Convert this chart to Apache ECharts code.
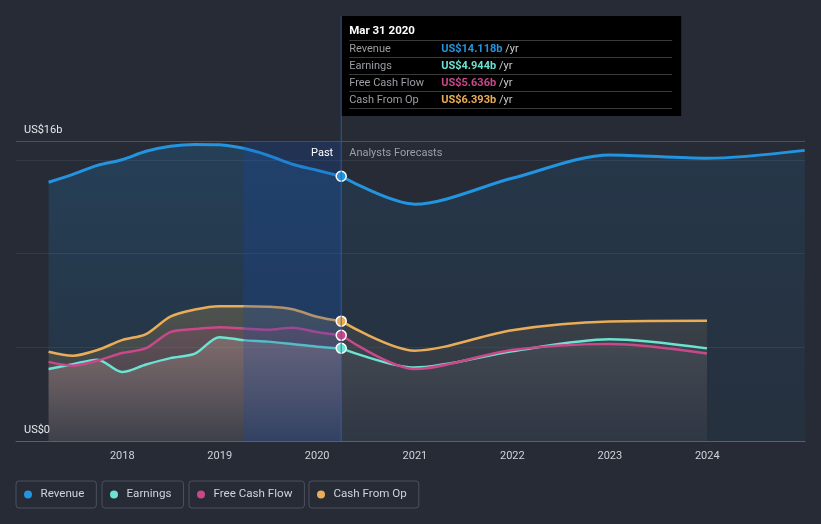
<!DOCTYPE html>
<html>
<head>
<meta charset="utf-8">
<script src="https://cdn.jsdelivr.net/npm/echarts@6/dist/echarts.min.js"></script>
<style>
html,body{margin:0;padding:0;background:#262b36;}
#c{width:821px;height:524px;}
</style>
</head>
<body>
<div id="c"></div>
<script>
// ---------- data (US$ billions) ----------
const pastDates = ['2017-03-31','2017-06-30','2017-09-30','2017-12-31','2018-03-31','2018-06-30','2018-09-30','2018-12-31','2019-03-31','2019-06-30','2019-09-30','2019-12-31','2020-03-31'];
const revenuePast  = [13.80,14.22,14.70,15.00,15.45,15.72,15.82,15.80,15.61,15.24,14.76,14.44,14.118];
const earningsPast = [3.84,4.10,4.34,3.68,4.08,4.42,4.66,5.54,5.38,5.30,5.17,5.03,4.944];
const fcfPast      = [4.22,4.02,4.29,4.69,4.95,5.81,5.97,6.07,6.00,5.93,6.04,5.81,5.636];
const cfoPast      = [4.76,4.55,4.85,5.38,5.70,6.63,7.01,7.19,7.19,7.16,7.03,6.63,6.393];

const forecastDates        = ['2020-03-31','2020-12-31','2021-12-31','2022-12-31','2023-12-31'];
const revenueForecastDates = ['2020-03-31','2020-12-31','2021-12-31','2022-12-31','2023-12-31','2024-12-31'];
const revenueForecast  = [14.118,12.63,14.01,15.26,15.08,15.50];
const earningsForecast = [4.944,3.92,4.79,5.43,4.94];
const fcfForecast      = [5.636,3.84,4.85,5.17,4.67];
const cfoForecast      = [6.393,4.82,5.91,6.37,6.41];

const seriesNames = ['Revenue','Earnings','Free Cash Flow','Cash From Op'];
const xTickYears = [2018,2019,2020,2021,2022,2023,2024];
const yTickValues = [0,16];
const yTickLabels = ['US$0','US$16b'];
const highlightRange = ['2019-03-31','2020-03-31'];
const tooltipTitle = 'Mar 31 2020';
const xRange = ['2016-11-29','2025-01-01'];

// ---------- styling ----------
const COLORS = ['#2394df','#6ce2d2','#c9488a','#e9ad57'];
const FONT = 'Roboto, "Open Sans", sans-serif';

function grad(top, bottom){
  return new echarts.graphic.LinearGradient(0,0,0,1,[{offset:0,color:top},{offset:1,color:bottom}]);
}
function pairs(dates, vals){ return dates.map((d,i)=>[d, vals[i]]); }
function lineSeries(name, dates, vals, color, width, area){
  return {
    name, type:'line', data: pairs(dates, vals), smooth:0.3,
    symbol:'none', silent:true,
    lineStyle:{color, width}, itemStyle:{color},
    areaStyle:{color: area}, z:2
  };
}

const pastAreas = [
  grad('rgba(35,148,223,0.28)','rgba(35,148,223,0.09)'),
  grad('rgba(215,205,195,0.38)','rgba(215,205,195,0.07)'),
  grad('rgba(201,72,138,0.25)','rgba(201,72,138,0.05)'),
  grad('rgba(232,180,90,0.30)','rgba(232,180,90,0.07)')
];
const fcAreas = [
  grad('rgba(35,148,223,0.16)','rgba(35,148,223,0.07)'),
  grad('rgba(160,160,175,0.14)','rgba(160,160,175,0.03)'),
  grad('rgba(160,160,175,0.12)','rgba(160,160,175,0.03)'),
  grad('rgba(80,78,76,0.72)','rgba(60,62,70,0.35)')
];

const pastVals = [revenuePast, earningsPast, fcfPast, cfoPast];
const fcVals = [revenueForecast, earningsForecast, fcfForecast, cfoForecast];
const fcDates = [revenueForecastDates, forecastDates, forecastDates, forecastDates];

const series = [];
for (let i=0;i<4;i++){
  const w = i===0 ? 3 : 2.5;
  series.push(lineSeries(seriesNames[i], pastDates, pastVals[i], COLORS[i], w, pastAreas[i]));
  series.push(lineSeries(seriesNames[i], fcDates[i], fcVals[i], COLORS[i], w, fcAreas[i]));
}
// highlighted last-year band
series[6].markArea = {
  silent:true, z:3,
  itemStyle:{color:'rgba(20,70,170,0.25)'},
  data:[[{xAxis:highlightRange[0]},{xAxis:highlightRange[1]}]]
};
// markers at the latest reported point
const lastIdx = pastDates.length-1;
for (let i=0;i<4;i++){
  series.push({
    name: seriesNames[i], type:'scatter', z:5, silent:true,
    data:[[pastDates[lastIdx], pastVals[i][lastIdx]]],
    symbolSize:10,
    itemStyle:{color:COLORS[i], borderColor:'#ffffff', borderWidth:1.5, opacity:1}
  });
}

const legendLefts = [16,102,189,309];
const legends = seriesNames.map((n,i)=>({
  data:[n], left:legendLefts[i], top:481, orient:'horizontal',
  icon:'circle', itemWidth:15, itemHeight:8,
  padding:[6,12,6,8],
  borderColor:'#4b515d', borderWidth:1, borderRadius:3,
  textStyle:{color:'#cfd3da', fontSize:11.6, fontFamily:FONT, lineHeight:15},
  selectedMode:false
}));

const YEAR = 365*24*3600*1000;
const option = {
  animation:false,
  backgroundColor:'#262b36',
  color: COLORS,
  grid:{left:16, right:16, top:141, bottom:83, containLabel:false},
  legend: legends,
  xAxis:{
    type:'time',
    min: +echarts.time.parse(xRange[0]),
    max: +echarts.time.parse(xRange[1]),
    minInterval: YEAR, maxInterval: YEAR + 2*24*3600*1000,
    splitNumber: 8,
    axisLine:{show:true, lineStyle:{color:'#5a606c', width:1}},
    axisTick:{show:false},
    splitLine:{show:false},
    axisLabel:{
      color:'#d0d3d8', fontSize:11, fontFamily:FONT, margin:10,
      formatter: function(v){
        const d = new Date(v);
        const y = d.getFullYear();
        if (d.getMonth()===0 && d.getDate()===1 && xTickYears.indexOf(y)>=0) return String(y);
        return '';
      }
    }
  },
  yAxis:{
    type:'value', min:0, max:16, interval:5,
    axisLine:{show:false}, axisTick:{show:false},
    splitLine:{show:true, lineStyle:{color:['#323a47','#323a47','#323a47','#323a47','#4b505a'], width:1}},
    axisLabel:{
      inside:true, margin:8, showMaxLabel:true, showMinLabel:true,
      verticalAlign:'bottom', padding:[0,0,5,0],
      color:'#e6e8eb', fontSize:11, fontFamily:FONT,
      formatter: function(v){
        const k = yTickValues.indexOf(v);
        return k>=0 ? yTickLabels[k] : '';
      }
    }
  },
  series
};

const chart = echarts.init(document.getElementById('c'));
chart.setOption(option);

// ---------- overlay: split line, labels, tooltip ----------
const splitX = chart.convertToPixel({gridIndex:0}, [pastDates[lastIdx], 0])[0];
const yTop = chart.convertToPixel({gridIndex:0}, [pastDates[0], 16])[1];
const yBot = chart.convertToPixel({gridIndex:0}, [pastDates[0], 0])[1];

function txt(x,y,text,fill,extra){
  return Object.assign({type:'text', x, y, silent:true,
    style:Object.assign({text, fill, fontSize:11, fontFamily:FONT, verticalAlign:'middle'}, extra||{})});
}
const tipChildren = [
  {type:'rect', shape:{x:0,y:0,width:340,height:100}, style:{fill:'#000000'}},
  txt(8,15,tooltipTitle,'#ffffff',{fontWeight:'bold', fontSize:11.5})
];
const sepYs = [24.5,41.5,58.5,75.5,92.5];
sepYs.forEach(y=>tipChildren.push({type:'line', shape:{x1:8,y1:y,x2:331,y2:y}, style:{stroke:'#3a3a3a', lineWidth:1}}));
for (let i=0;i<4;i++){
  const cy = 33 + i*17;
  tipChildren.push(txt(8, cy, seriesNames[i], '#9b9ea3'));
  tipChildren.push({type:'text', x:100, y:cy, silent:true, style:{
    text:'{v|US$'+pastVals[i][lastIdx].toFixed(3)+'b} {u|/yr}',
    verticalAlign:'middle', fontSize:11, fontFamily:FONT,
    rich:{
      v:{fill:COLORS[i], fontSize:11, fontFamily:FONT, fontWeight:'bold'},
      u:{fill:'#c8cacd', fontSize:11, fontFamily:FONT}
    }
  }});
}

chart.setOption({
  graphic:[
    {type:'line', silent:true, z:10, shape:{x1:splitX, y1:16, x2:splitX, y2:yBot}, style:{stroke:'rgba(48,98,170,0.85)', lineWidth:1}},
    Object.assign(txt(splitX-8, yTop+12, 'Past', '#ffffff', {align:'right'}), {z:10}),
    Object.assign(txt(splitX+8, yTop+12, 'Analysts Forecasts', '#9aa0a8', {align:'left'}), {z:10}),
    {type:'group', x:splitX, y:16, z:20, children:tipChildren}
  ]
});
</script>
</body>
</html>
